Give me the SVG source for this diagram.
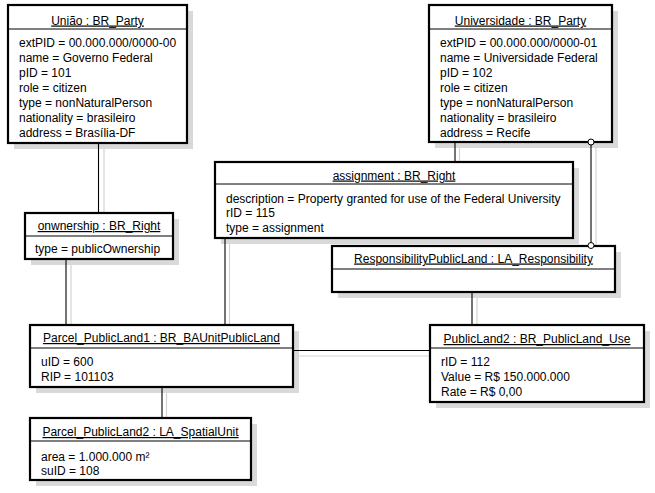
<svg xmlns="http://www.w3.org/2000/svg" width="655" height="493" viewBox="0 0 655 493">
<style>
text{font-family:"Liberation Sans",Arial,sans-serif;font-size:12px;fill:#000}
.t{text-anchor:middle;text-decoration:underline}
.box{fill:#fff;stroke:#000;stroke-width:2.2}
.sh{fill:#d9d9d9}
.sep{stroke:#000;stroke-width:1}
.c{stroke:#000;stroke-width:1.1;fill:none}
.cs{stroke:#d4d4d4;stroke-width:1.2;fill:none}
.end{fill:#fff;stroke:#000;stroke-width:1}
</style>
<rect width="655" height="493" fill="#fff"/>
<g id="connector-shadows">
<line class="cs" x1="104" y1="143" x2="104" y2="213"/>
<line class="cs" x1="71" y1="259" x2="71" y2="325"/>
<line class="cs" x1="229.5" y1="238" x2="229.5" y2="325"/>
<line class="cs" x1="459.5" y1="142" x2="459.5" y2="162"/>
<line class="cs" x1="596" y1="142" x2="596" y2="246"/>
<line class="cs" x1="477" y1="292" x2="477" y2="325"/>
<line class="cs" x1="293" y1="356" x2="430" y2="356"/>
<line class="cs" x1="166.5" y1="387" x2="166.5" y2="418"/>
</g>
<g id="shadows">
<rect class="sh" x="14" y="11" width="179" height="138"/>
<rect class="sh" x="435" y="11" width="183" height="137"/>
<rect class="sh" x="221" y="168" width="358" height="76"/>
<rect class="sh" x="31" y="219" width="148" height="46"/>
<rect class="sh" x="338" y="252" width="283" height="46"/>
<rect class="sh" x="36" y="331" width="263" height="62"/>
<rect class="sh" x="436" y="331" width="214" height="77"/>
<rect class="sh" x="36" y="424" width="221" height="62"/>
</g>
<g id="connectors">
<line class="c" x1="98.5" y1="143" x2="98.5" y2="213"/>
<line class="c" x1="66" y1="259" x2="66" y2="325"/>
<line class="c" x1="225" y1="238" x2="225" y2="325"/>
<line class="c" x1="455" y1="142" x2="455" y2="162"/>
<line class="c" x1="591" y1="142" x2="591" y2="246"/>
<line class="c" x1="472" y1="292" x2="472" y2="325"/>
<line class="c" x1="293" y1="350.5" x2="430" y2="350.5"/>
<line class="c" x1="162" y1="387" x2="162" y2="418"/>
</g>
<g id="uniao">
<rect class="box" x="8" y="5" width="179" height="138"/>
<line class="sep" x1="8" y1="29" x2="187" y2="29"/>
<text class="t" x="97.5" y="24.5">União : BR_Party</text>
<text x="19" y="47">extPID = 00.000.000/0000-00</text>
<text x="19" y="62">name = Governo Federal</text>
<text x="19" y="77">pID = 101</text>
<text x="19" y="92">role = citizen</text>
<text x="19" y="107">type = nonNaturalPerson</text>
<text x="19" y="122">nationality = brasileiro</text>
<text x="19" y="137">address = Brasília-DF</text>
</g>
<g id="universidade">
<rect class="box" x="429" y="5" width="183" height="137"/>
<line class="sep" x1="429" y1="29" x2="612" y2="29"/>
<text class="t" x="520.5" y="24.5">Universidade : BR_Party</text>
<text x="440" y="47">extPID = 00.000.000/0000-01</text>
<text x="440" y="62">name = Universidade Federal</text>
<text x="440" y="77">pID = 102</text>
<text x="440" y="92">role = citizen</text>
<text x="440" y="107">type = nonNaturalPerson</text>
<text x="440" y="122">nationality = brasileiro</text>
<text x="440" y="137">address = Recife</text>
</g>
<g id="assignment">
<rect class="box" x="215" y="162" width="358" height="76"/>
<line class="sep" x1="215" y1="184" x2="573" y2="184"/>
<text class="t" x="394" y="179.5">assignment : BR_Right</text>
<text x="226" y="202.5">description = Property granted for use of the Federal University</text>
<text x="226" y="217">rID = 115</text>
<text x="226" y="232">type = assignment</text>
</g>
<g id="onwnership">
<rect class="box" x="25" y="213" width="148" height="46"/>
<line class="sep" x1="25" y1="236" x2="173" y2="236"/>
<text class="t" x="99" y="230">onwnership : BR_Right</text>
<text x="35" y="253">type = publicOwnership</text>
</g>
<g id="responsibility">
<rect class="box" x="332" y="246" width="283" height="46"/>
<line class="sep" x1="332" y1="269" x2="615" y2="269"/>
<text class="t" x="473.5" y="262.5">ResponsibilityPublicLand : LA_Responsibility</text>
</g>
<g id="parcel1">
<rect class="box" x="30" y="325" width="263" height="62"/>
<line class="sep" x1="30" y1="348" x2="293" y2="348"/>
<text class="t" x="161.5" y="342">Parcel_PublicLand1 : BR_BAUnitPublicLand</text>
<text x="41" y="366">uID = 600</text>
<text x="41" y="380.5">RIP = 101103</text>
</g>
<g id="publicland2">
<rect class="box" x="430" y="325" width="214" height="77"/>
<line class="sep" x1="430" y1="348" x2="644" y2="348"/>
<text class="t" x="537" y="343">PublicLand2 : BR_PublicLand_Use</text>
<text x="441" y="366">rID = 112</text>
<text x="441" y="381">Value = R$ 150.000.000</text>
<text x="441" y="396">Rate = R$ 0,00</text>
</g>
<g id="parcel2">
<rect class="box" x="30" y="418" width="221" height="62"/>
<line class="sep" x1="30" y1="441" x2="251" y2="441"/>
<text class="t" x="140.5" y="436">Parcel_PublicLand2 : LA_SpatialUnit</text>
<text x="41" y="461">area = 1.000.000 m²</text>
<text x="41" y="474.5">suID = 108</text>
</g>
<g id="connector-ends">
<circle class="end" cx="591" cy="142" r="3"/>
<circle class="end" cx="591" cy="245.5" r="3"/>
</g>
</svg>
